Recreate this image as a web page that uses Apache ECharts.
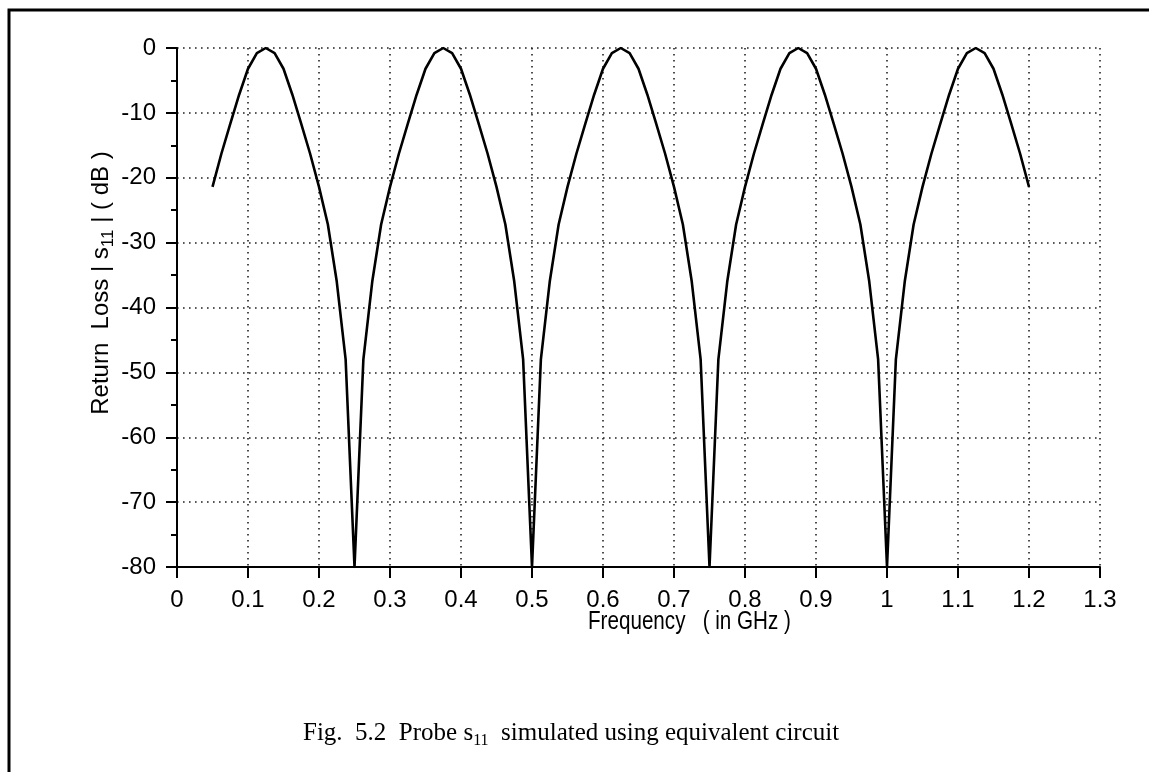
<!DOCTYPE html>
<html>
<head>
<meta charset="utf-8">
<title>Probe s11 simulated using equivalent circuit</title>
<script src="https://cdn.jsdelivr.net/npm/echarts@6/dist/echarts.min.js"></script>
<style>
  html, body { margin: 0; padding: 0; background: #fff; }
  #chart { width: 1149px; height: 772px; }
</style>
</head>
<body>
<div id="chart"></div>
<script>
// Frequency samples (GHz)
const freqGHz = [
  0.05, 0.0625, 0.075, 0.0875, 0.1, 0.1125, 0.125, 0.1375, 0.15, 0.1625, 0.175, 0.1875,
  0.2, 0.2125, 0.225, 0.2375, 0.25, 0.2625, 0.275, 0.2875, 0.3, 0.3125, 0.325, 0.3375,
  0.35, 0.3625, 0.375, 0.3875, 0.4, 0.4125, 0.425, 0.4375, 0.45, 0.4625, 0.475, 0.4875,
  0.5, 0.5125, 0.525, 0.5375, 0.55, 0.5625, 0.575, 0.5875, 0.6, 0.6125, 0.625, 0.6375,
  0.65, 0.6625, 0.675, 0.6875, 0.7, 0.7125, 0.725, 0.7375, 0.75, 0.7625, 0.775, 0.7875,
  0.8, 0.8125, 0.825, 0.8375, 0.85, 0.8625, 0.875, 0.8875, 0.9, 0.9125, 0.925, 0.9375,
  0.95, 0.9625, 0.975, 0.9875, 1.0, 1.0125, 1.025, 1.0375, 1.05, 1.0625, 1.075, 1.0875,
  1.1, 1.1125, 1.125, 1.1375, 1.15, 1.1625, 1.175, 1.1875, 1.2
];

// Return loss |s11| (dB) at each frequency sample
const returnLossDb = [
  -21.4, -16.3, -11.7, -7.2, -3.2, -0.8, 0, -0.8, -3.2, -7.2, -11.7, -16.3,
  -21.4, -27.2, -36, -48, -80, -48, -36, -27.2, -21.4, -16.3, -11.7, -7.2,
  -3.2, -0.8, 0, -0.8, -3.2, -7.2, -11.7, -16.3, -21.4, -27.2, -36, -48,
  -80, -48, -36, -27.2, -21.4, -16.3, -11.7, -7.2, -3.2, -0.8, 0, -0.8,
  -3.2, -7.2, -11.7, -16.3, -21.4, -27.2, -36, -48, -80, -48, -36, -27.2,
  -21.4, -16.3, -11.7, -7.2, -3.2, -0.8, 0, -0.8, -3.2, -7.2, -11.7, -16.3,
  -21.4, -27.2, -36, -48, -80, -48, -36, -27.2, -21.4, -16.3, -11.7, -7.2,
  -3.2, -0.8, 0, -0.8, -3.2, -7.2, -11.7, -16.3, -21.4
];

// Axis ranges and tick steps
const xRange = [0, 1.3];
const xStep = 0.1;
const yRange = [-80, 0];
const yStep = 10;

const xTitle = 'Frequency   ( in GHz )';
const captionText = ['Fig.  5.2  Probe s', '11', '  simulated using equivalent circuit'];

const sansFont = '"Liberation Sans", Arial, Helvetica, sans-serif';
const serifFont = '"Liberation Serif", "Times New Roman", serif';

const chart = echarts.init(document.getElementById('chart'), null, { renderer: 'canvas' });

const dotted = { color: '#222', width: 1.6, type: [1.6, 4.4] };

const option = {
  backgroundColor: '#ffffff',
  animation: false,
  grid: { left: 177, right: 49, top: 48, bottom: 205, containLabel: false },
  xAxis: {
    type: 'value',
    min: xRange[0],
    max: xRange[1],
    interval: xStep,
    axisLine: { show: true, onZero: false, lineStyle: { color: '#000', width: 2 } },
    axisTick: { show: true, inside: false, length: 11, lineStyle: { color: '#000', width: 2 } },
    axisLabel: {
      color: '#000', fontFamily: sansFont, fontSize: 24, margin: 21,
      formatter: v => String(Math.round(v * 10) / 10)
    },
    splitLine: { show: true, lineStyle: dotted }
  },
  yAxis: {
    type: 'value',
    min: yRange[0],
    max: yRange[1],
    interval: yStep,
    axisLine: { show: true, onZero: false, lineStyle: { color: '#000', width: 2 } },
    axisTick: { show: true, inside: false, length: 11, lineStyle: { color: '#000', width: 2 } },
    minorTick: { show: true, splitNumber: 2, length: 6, lineStyle: { color: '#000', width: 2 } },
    axisLabel: { color: '#000', fontFamily: sansFont, fontSize: 24, margin: 21 },
    splitLine: { show: true, lineStyle: dotted }
  },
  series: [{
    type: 'line',
    data: freqGHz.map((f, i) => [f, returnLossDb[i]]),
    showSymbol: false,
    symbol: 'none',
    smooth: false,
    clip: true,
    lineStyle: { color: '#000', width: 2.6, join: 'round' }
  }],
  graphic: [
    {
      // page frame
      type: 'rect',
      shape: { x: 9, y: 10, width: 1300, height: 900 },
      style: { fill: 'none', stroke: '#000', lineWidth: 3 },
      silent: true
    },
    {
      // condensed axis title
      type: 'text',
      x: 588,
      y: 610,
      scaleX: 0.825,
      style: { text: xTitle, font: '25px ' + sansFont, fill: '#000' }
    },
    {
      type: 'text',
      x: 101,
      y: 283,
      rotation: Math.PI / 2,
      style: {
        text: '{t|Return  Loss | s}{s|11}{t| | ( dB )}',
        align: 'center',
        verticalAlign: 'middle',
        rich: {
          t: { fontFamily: sansFont, fontSize: 24, fill: '#000', lineHeight: 32, verticalAlign: 'middle' },
          s: { fontFamily: sansFont, fontSize: 17, fill: '#000', lineHeight: 19, verticalAlign: 'bottom' }
        }
      }
    },
    {
      type: 'text',
      left: 303,
      top: 721,
      style: {
        text: '{t|' + captionText[0] + '}{s|' + captionText[1] + '}{t|' + captionText[2] + '}',
        rich: {
          t: { fontFamily: serifFont, fontSize: 25, fill: '#000', lineHeight: 30, verticalAlign: 'middle' },
          s: { fontFamily: serifFont, fontSize: 16, fill: '#000', lineHeight: 16, verticalAlign: 'bottom' }
        }
      }
    }
  ]
};

chart.setOption(option);
</script>
</body>
</html>
